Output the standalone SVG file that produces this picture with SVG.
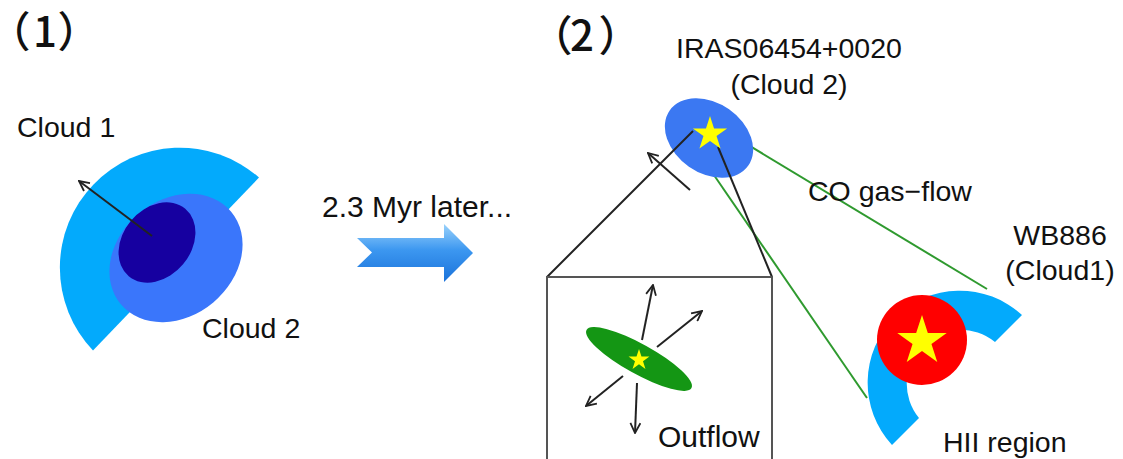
<svg xmlns="http://www.w3.org/2000/svg" xmlns:xlink="http://www.w3.org/1999/xlink" width="1123" height="459" viewBox="0 0 1123 459">
  <style>
    .lbl { font-family: "Liberation Sans", Arial, sans-serif; font-size: 28.5px; fill: #111; }
    .num { font-family: "Noto Sans CJK JP", "Noto Sans CJK SC", sans-serif; font-size: 42px; font-weight: 500; fill: #111; font-feature-settings: "palt"; }
    .ink { stroke: #222; stroke-width: 2; fill: none; }
    .flow { stroke: #2f9a2f; stroke-width: 2; fill: none; }
  </style>
  <defs>
    <marker id="open" viewBox="0 0 12 12" refX="11" refY="6" markerWidth="12" markerHeight="12" markerUnits="userSpaceOnUse" orient="auto">
      <path d="M1,1 L11,6 L1,11" fill="none" stroke="#222" stroke-width="1.8"/>
    </marker>
    <path id="star" d="M0,-10 L2.245,-3.09 L9.511,-3.09 L3.633,1.18 L5.878,8.09 L0,3.82 L-5.878,8.09 L-3.633,1.18 L-9.511,-3.09 L-2.245,-3.09 Z" fill="#ffff00"/>
    <linearGradient id="blockGrad" x1="0" y1="0" x2="0" y2="1">
      <stop offset="0" stop-color="#9ad2fb"/>
      <stop offset="0.45" stop-color="#3c97f0"/>
      <stop offset="1" stop-color="#1a72da"/>
    </linearGradient>
  </defs>

  <rect width="1123" height="459" fill="#ffffff"/>

  <!-- panel (1): two clouds before the collision -->
  <g id="panel1-label"><text class="num" x="8 33 59" y="47">（1）</text></g>
  <g id="cloud1">
    <path d="M259,177.5 A120 120 0 0 0 93,350.5 Z" fill="#03aafc"/>
    <text class="lbl" x="17" y="137">Cloud 1</text>
  </g>
  <g id="cloud2">
    <ellipse cx="176" cy="258" rx="72" ry="58" transform="rotate(-40 176 258)" fill="#3a76fb"/>
    <ellipse cx="157" cy="242.5" rx="44" ry="34" transform="rotate(-50 157 242.5)" fill="#1600a0"/>
    <line class="ink" x1="152" y1="236" x2="79" y2="181" marker-end="url(#open)"/>
    <text class="lbl" x="202" y="338">Cloud 2</text>
  </g>

  <!-- time step -->
  <g id="time-step">
    <text class="lbl" x="322" y="217" style="font-size:30px">2.3 Myr later...</text>
    <polygon points="357,238 444,238 444,224 473,253 444,282 444,267 357,267 372,252.5" fill="url(#blockGrad)"/>
  </g>

  <!-- panel (2) -->
  <g id="panel2-label"><text class="num" x="550 570 600" y="51">（2）</text></g>

  <g id="connectors">
    <line class="flow" x1="730" y1="134" x2="987" y2="289"/>
    <line class="flow" x1="705" y1="162" x2="867" y2="398"/>
  </g>

  <g id="cloud2-iras">
    <ellipse cx="709" cy="138" rx="48" ry="35" transform="rotate(35 709 138)" fill="#3b78f2"/>
    <text class="lbl" x="789" y="58" text-anchor="middle">IRAS06454+0020</text>
    <text class="lbl" x="789" y="94" text-anchor="middle">(Cloud 2)</text>
  </g>

  <g id="zoom-lines">
    <line class="ink" x1="693" y1="131" x2="547" y2="277"/>
    <line class="ink" x1="718" y1="147" x2="772" y2="277"/>
    <line class="ink" x1="690" y1="190" x2="648" y2="153" marker-end="url(#open)"/>
    <use xlink:href="#star" href="#star" transform="translate(710 134) scale(1.8)"/>
  </g>

  <g id="outflow-box">
    <rect x="547" y="277" width="225" height="200" fill="#ffffff" stroke="#555" stroke-width="2"/>
    <ellipse cx="639" cy="359" rx="60" ry="15" transform="rotate(29 639 359)" fill="#149614"/>
    <use xlink:href="#star" href="#star" transform="translate(639 360) scale(1.1)"/>
    <line class="ink" x1="642" y1="340" x2="653" y2="285" marker-end="url(#open)"/>
    <line class="ink" x1="657" y1="347" x2="702" y2="311" marker-end="url(#open)"/>
    <line class="ink" x1="623" y1="376" x2="586" y2="406" marker-end="url(#open)"/>
    <line class="ink" x1="637" y1="383" x2="635" y2="433" marker-end="url(#open)"/>
    <text class="lbl" x="658" y="447" style="font-size:30px">Outflow</text>
  </g>

  <g id="gas-flow-label"><text class="lbl" x="808" y="201">CO gas−flow</text></g>

  <g id="cloud1-wb886">
    <path d="M1022,315 A92 92 0 0 0 892,445 L919,418 A54 54 0 0 1 995,342 Z" fill="#03aafc"/>
    <circle cx="922" cy="340" r="45" fill="#ff0000"/>
    <use xlink:href="#star" href="#star" transform="translate(922 341) scale(2.6)"/>
    <text class="lbl" x="1060" y="245" text-anchor="middle">WB886</text>
    <text class="lbl" x="1060" y="280" text-anchor="middle">(Cloud1)</text>
    <text class="lbl" x="943" y="452">HII region</text>
  </g>
</svg>
